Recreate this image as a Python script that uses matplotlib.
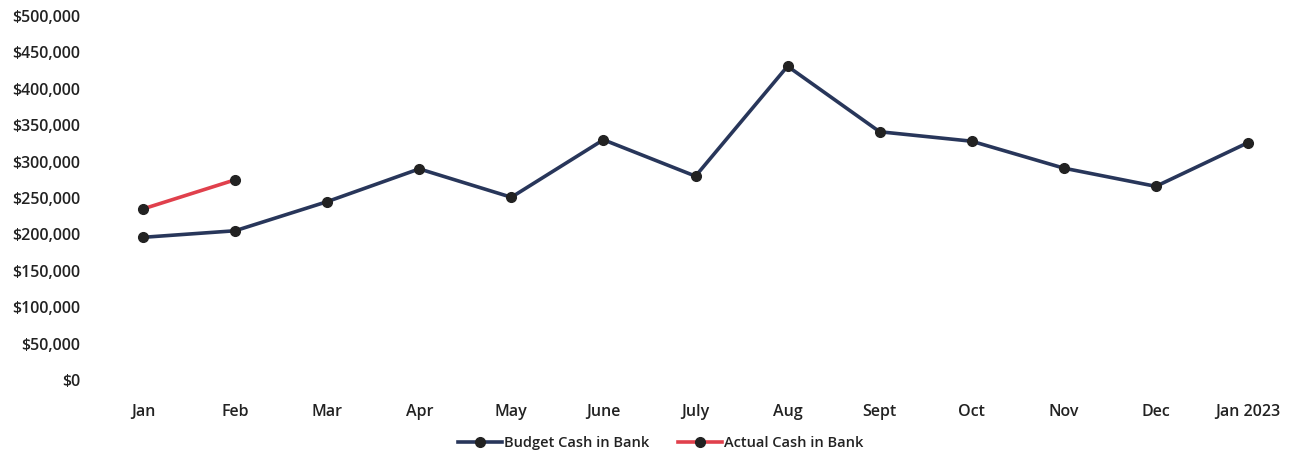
import matplotlib.pyplot as plt
from matplotlib.ticker import FuncFormatter

# Cash in bank by month
months = ["Jan", "Feb", "Mar", "Apr", "May", "June", "July", "Aug",
          "Sept", "Oct", "Nov", "Dec", "Jan 2023"]
budget_cash = [196000, 205000, 245000, 290000, 251000, 330000, 280000,
               431000, 341000, 328000, 291000, 266000, 326000]
actual_cash = [235000, 275000]

plt.rcParams['font.family'] = ['Open Sans', 'DejaVu Sans']

fig = plt.figure(figsize=(12.94, 4.57), dpi=100)
ax = fig.add_axes([97 / 1294, 77 / 457, 1197 / 1294, 364 / 457])

x = list(range(len(months)))
ax.plot(x, budget_cash, color='#28365a', lw=2.6, marker='o', ms=7,
        mfc='#222222', mec='#222222', label='Budget Cash in Bank')
ax.plot(x[:len(actual_cash)], actual_cash, color='#e0404c', lw=2.6,
        marker='o', ms=7, mfc='#222222', mec='#222222',
        label='Actual Cash in Bank')

ax.set_xlim(-0.5, len(months) - 0.5)
ax.set_ylim(0, 500000)
ax.set_yticks(range(0, 500001, 50000))
ax.yaxis.set_major_formatter(FuncFormatter(lambda v, p: f"${v:,.0f}"))
ax.set_xticks(x)
ax.set_xticklabels(months)

for s in ax.spines.values():
    s.set_visible(False)
ax.tick_params(length=0, labelsize=11.5, colors='#222222')
ax.tick_params(axis='x', pad=17)
ax.tick_params(axis='y', pad=12)
for lab in ax.get_xticklabels() + ax.get_yticklabels():
    lab.set_fontweight('semibold')

leg = ax.legend(loc='center', bbox_to_anchor=(0.471, -0.174), ncol=2,
                frameon=False, fontsize=10.5, handlelength=3.0,
                columnspacing=2.0, handletextpad=0.15)
for t in leg.get_texts():
    t.set_fontweight('semibold')
    t.set_color('#222222')

fig.savefig("out.png", dpi=100, facecolor='white')
